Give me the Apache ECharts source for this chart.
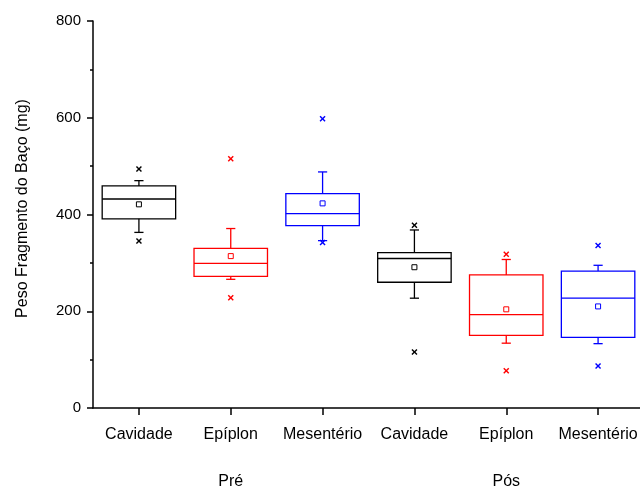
<!DOCTYPE html>
<html>
<head>
<meta charset="utf-8">
<script src="https://cdn.jsdelivr.net/npm/echarts@6/dist/echarts.min.js"></script>
<style>
  html, body { margin: 0; padding: 0; background: #fff; }
  #chart { width: 640px; height: 487px; }
</style>
</head>
<body>
<div id="chart"></div>
<script>
// categorias e grupos
const categories = ['Cavidade', 'Epíplon', 'Mesentério', 'Cavidade', 'Epíplon', 'Mesentério'];
const groups = ['Pré', 'Pós'];

// estatísticas (mg)
const whiskerLow = [363, 266, 346, 227, 134, 133];
const q1 = [391, 272, 377, 260, 150, 146];
const median = [432, 299, 402, 309, 193, 227];
const q3 = [459, 330, 443, 321, 275, 283];
const whiskerHigh = [470, 371, 488, 368, 307, 295];
const mean = [421, 314, 423, 291, 204, 210];
const minVals = [345, 228, 342, 116, 77, 87];
const maxVals = [494, 515, 598, 378, 318, 336];

const colors = ['#000000', '#ff0000', '#0000ff', '#000000', '#ff0000', '#0000ff'];
const FONT = '"Liberation Sans", Arial, Helvetica, sans-serif';

const boxData = categories.map((c, i) => [
  i, whiskerLow[i], q1[i], median[i], q3[i], whiskerHigh[i], mean[i], minVals[i], maxVals[i]
]);

// caixa estilo Origin: caixa, mediana, bigodes, média (quadrado) e min/max (x)
function renderBox(params, api) {
  const i = api.value(0);
  const color = colors[i];
  const band = api.size([1, 0])[0];
  const half = band * 0.4;
  const cap = band * 0.05;
  const x = api.coord([i, 0])[0];
  const y = (d) => api.coord([i, api.value(d)])[1];
  const yLo = y(1), yQ1 = y(2), yMed = y(3), yQ3 = y(4), yHi = y(5);
  const yMean = y(6), yMin = y(7), yMax = y(8);
  const line = (x1, y1, x2, y2, w) => ({
    type: 'line',
    shape: { x1, y1, x2, y2 },
    style: { stroke: color, lineWidth: w || 1.3 }
  });
  const cross = (cy) => [
    line(x - 2.5, cy - 2.5, x + 2.5, cy + 2.5, 1.4),
    line(x - 2.5, cy + 2.5, x + 2.5, cy - 2.5, 1.4)
  ];
  return {
    type: 'group',
    children: [
      line(x, yQ3, x, yHi),
      line(x - cap, yHi, x + cap, yHi),
      line(x, yQ1, x, yLo),
      line(x - cap, yLo, x + cap, yLo),
      {
        type: 'rect',
        shape: { x: x - half, y: yQ3, width: half * 2, height: yQ1 - yQ3 },
        style: { fill: 'none', stroke: color, lineWidth: 1.3 }
      },
      line(x - half, yMed, x + half, yMed),
      {
        type: 'rect',
        shape: { x: x - 2.5, y: yMean - 2.5, width: 5, height: 5 },
        style: { fill: '#fff', stroke: color, lineWidth: 1 }
      },
      ...cross(yMin),
      ...cross(yMax)
    ]
  };
}

const myChart = echarts.init(document.getElementById('chart'), null, { renderer: 'canvas' });
myChart.setOption({
  animation: false,
  backgroundColor: '#fff',
  textStyle: { fontFamily: FONT },
  grid: { left: 93, top: 21, width: 551, height: 387, containLabel: false, outerBoundsMode: 'none' },
  xAxis: [
    {
      type: 'category',
      data: categories,
      boundaryGap: true,
      axisLine: { show: true, lineStyle: { color: '#000', width: 1.5 } },
      axisTick: { show: true, alignWithLabel: true, length: 7, lineStyle: { color: '#000', width: 1.5 } },
      axisLabel: { interval: 0, color: '#000', fontSize: 16, fontFamily: FONT, margin: 19 },
      splitLine: { show: false }
    },
    {
      type: 'category',
      data: groups,
      position: 'bottom',
      offset: 48,
      boundaryGap: true,
      axisLine: { show: false },
      axisTick: { show: false },
      axisLabel: { interval: 0, color: '#000', fontSize: 16, fontFamily: FONT, margin: 18 },
      splitLine: { show: false }
    }
  ],
  yAxis: {
    type: 'value',
    min: 0,
    max: 800,
    interval: 200,
    name: 'Peso Fragmento do Baço (mg)',
    nameLocation: 'middle',
    nameGap: 62,
    nameTextStyle: { color: '#000', fontSize: 16, fontFamily: FONT, padding: [0, 0, 0, 12] },
    axisLine: { show: true, lineStyle: { color: '#000', width: 1.5 } },
    axisTick: { show: true, inside: false, length: 6, lineStyle: { color: '#000', width: 1.5 } },
    minorTick: { show: true, splitNumber: 2, length: 3, lineStyle: { color: '#000', width: 1.5 } },
    axisLabel: { color: '#000', fontSize: 15, fontFamily: FONT, margin: 12 },
    splitLine: { show: false },
    minorSplitLine: { show: false }
  },
  series: [
    {
      type: 'custom',
      xAxisIndex: 0,
      renderItem: renderBox,
      encode: { x: 0, y: [1, 2, 3, 4, 5, 6, 7, 8] },
      data: boxData,
      clip: false
    }
  ]
});
</script>
</body>
</html>
